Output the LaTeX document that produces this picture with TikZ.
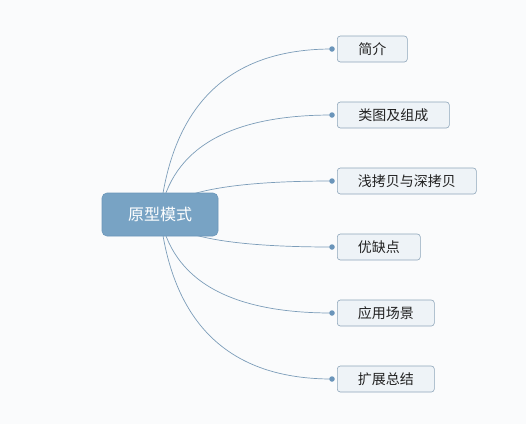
\documentclass[tikz,border=0pt]{standalone}
\usepackage{fontspec}
\newfontfamily\cjk{Noto Sans CJK SC}
\usetikzlibrary{calc}
\pgfdeclarelayer{bgl}
\pgfdeclarelayer{linkl}
\pgfsetlayers{bgl,linkl,main}
\definecolor{bgc}{HTML}{FAFBFC}
\definecolor{mainfill}{HTML}{78A3C4}
\definecolor{mainedge}{HTML}{6C97BA}
\definecolor{subfill}{HTML}{EEF3F7}
\definecolor{subedge}{HTML}{8EA6BA}
\definecolor{linec}{HTML}{7C9DB9}
\definecolor{dotc}{HTML}{6B95BA}
\definecolor{txt}{HTML}{222222}
\tikzset{
  mainbox/.style={draw=mainedge, fill=mainfill, rounded corners=5pt, line width=0.6pt,
    minimum width=116pt, minimum height=43pt, inner sep=0pt,
    text=white, font=\cjk\fontsize{16}{18}\selectfont},
  subbox/.style={draw=subedge, fill=subfill, rounded corners=3pt, line width=0.6pt,
    minimum height=26pt, inner sep=0pt, anchor=west,
    text=txt, font=\cjk\fontsize{14}{16}\selectfont},
  link/.style={draw=linec, line width=0.7pt},
  dotmark/.style={circle, fill=dotc, minimum size=5.5pt, inner sep=0pt}
}
\begin{document}
\begin{tikzpicture}[x=1pt,y=-1pt]
\begin{pgfonlayer}{bgl}
\path[use as bounding box, fill=bgc] (0,0) rectangle (526,424);
\end{pgfonlayer}
% central topic
\node[mainbox] (m) at (160,214.5) {原型模式};
% child boxes
\node[subbox, minimum width=70pt]  (a) at (337,49)  {简介};
\node[subbox, minimum width=112pt] (b) at (337,115) {类图及组成};
\node[subbox, minimum width=139pt] (c) at (337,181) {浅拷贝与深拷贝};
\node[subbox, minimum width=83pt]  (d) at (337,247) {优缺点};
\node[subbox, minimum width=97pt]  (e) at (337,313) {应用场景};
\node[subbox, minimum width=97pt]  (f) at (337,379) {扩展总结};
% dots
\foreach \n/\yy in {a/49,b/115,c/181,d/247,e/313,f/379} {
  \node[dotmark] (q\n) at (332,\yy) {};
}
% curves (quadratic Bezier with control point (178,y), written as cubic)
\begin{pgfonlayer}{linkl}
\foreach \n/\yy in {a/49,b/115,c/181,d/247,e/313,f/379} {
  \pgfmathsetmacro{\cy}{214.5+0.6667*(\yy-214.5)}
  \draw[link] (m.center) .. controls (172,\cy) and (229.33,\yy) .. (q\n.center);
}
\end{pgfonlayer}
\end{tikzpicture}
\end{document}
